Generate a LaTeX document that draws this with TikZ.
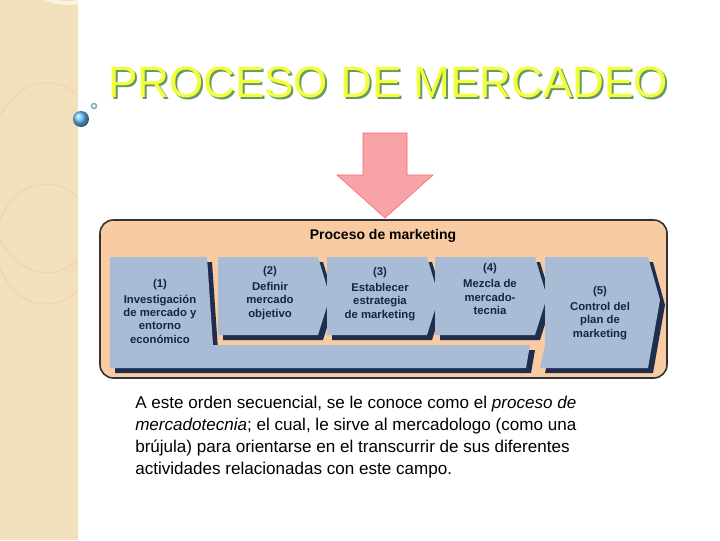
\documentclass[tikz,border=0pt]{standalone}
\usepackage{fontspec}
\setmainfont{Liberation Sans}
\definecolor{strip}{HTML}{F2DFBC}
\definecolor{peach}{HTML}{F9CBA3}
\definecolor{steel}{HTML}{A9BCD6}
\definecolor{navy}{HTML}{1F2D4F}
\definecolor{titley}{HTML}{F2FF3C}
\definecolor{pinkarrow}{HTML}{F7A3A8}
\tikzset{
  chev/.style={fill=steel},
  chevshade/.style={fill=navy},
  steptext/.style={font=\bfseries\fontsize{8.5}{10}\selectfont, align=center, text=navy!80!black},
}
\begin{document}
\begin{tikzpicture}[x=0.75pt,y=-0.75pt]
			\useasboundingbox (0,0) rectangle (720,540);
			% background strip
			\fill[strip] (0,0) rectangle (78,540);
			\begin{scope}
				\clip (0,0) rectangle (78,540);
				\draw[white!60!strip, line width=3pt] (78,2) arc (80:270:60 and 65);
				\draw[strip!85!brown, line width=0.5pt] (78,260) arc (60:300:62 and 95);
				\draw[strip!85!brown, line width=0.5pt] (78,290) arc (50:310:50 and 60);
			\end{scope}
			\shade[ball color=cyan!60!blue!60] (81,119) circle (8);
			\draw[cyan!40!gray, line width=1pt] (94,106) circle (2.5);
			% title
			\node[text=gray!80!green, font=\fontsize{33}{36}\selectfont] (ttlsh) at (390,84) {PROCESO DE MERCADEO};
			\node[text=titley, font=\fontsize{33}{36}\selectfont] (ttl) at (388,82) {PROCESO DE MERCADEO};
			% arrow
			\draw[pinkarrow!60!red, fill=pinkarrow] (363,133) -- (407,133) -- (407,175) -- (433,175) -- (385,218) -- (337,175) -- (363,175) -- cycle;
			% outer box
			\node[draw=black!80, line width=1.2pt, fill=peach, rounded corners=10pt, minimum width=567*0.75pt, minimum height=158*0.75pt] (box) at (383.5,299) {};
			\node[font=\bfseries\fontsize{10.5}{12}\selectfont] (head) at (383,236) {Proceso de marketing};
			% chevrons
			\foreach \s/\o in {chevshade/5, chev/0} {
				\fill[\s] (110+\o,257+\o) -- (207+\o,257+\o) -- (213+\o,345+\o) -- (530+\o,345+\o) -- (526+\o,368+\o) -- (110+\o,368+\o) -- cycle;
				\foreach \a in {218,327,435} {
					\fill[\s] (\a+\o,257+\o) -- (\a+100+\o,257+\o) -- (\a+112+\o,297+\o) -- (\a+100+\o,335+\o) -- (\a+\o,335+\o) -- cycle;
				}
				\fill[\s] (545+\o,257+\o) -- (648+\o,257+\o) -- (660+\o,300+\o) -- (648+\o,368+\o) -- (540+\o,368+\o) -- (545+\o,345+\o) -- cycle;
			}
			\node[steptext] (s1) at (160,311) {(1)\\[2pt]Investigación\\de mercado y\\entorno\\económico};
			\node[steptext] (s2) at (270,293) {(2)\\[2pt]Definir\\mercado\\objetivo};
			\node[steptext] (s3) at (380,294) {(3)\\[2pt]Establecer\\estrategia\\de marketing};
			\node[steptext] (s4) at (490,289) {(4)\\[2pt]Mezcla de\\mercado-\\tecnia};
			\node[steptext] (s5) at (600,313) {(5)\\[2pt]Control del\\plan de\\marketing};
			% text
			\node[anchor=north west, align=left, font=\fontsize{12.8}{16.5}\selectfont, inner sep=0pt] (txt) at (135,396) {A este orden secuencial, se le conoce como el \emph{proceso de}\\\emph{mercadotecnia}; el cual, le sirve al mercadologo (como una\\brújula) para orientarse en el transcurrir de sus diferentes\\actividades relacionadas con este campo.};
		\end{tikzpicture}
\end{document}
